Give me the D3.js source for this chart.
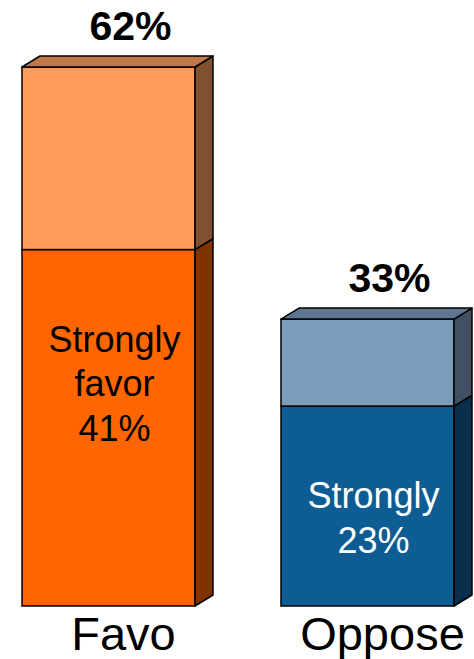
<!DOCTYPE html>
<html><head><meta charset="utf-8">
<script src="https://cdn.jsdelivr.net/npm/d3@7"></script>
<style>body{margin:0;background:#fff}svg{display:block}</style>
</head><body>
<svg id="c" width="474" height="659"></svg>
<script>
const categories = ["Favo", "Oppose"];
const strongValues = [41, 23];
const totalValues = [62, 33];
const strongLabels = [["Strongly", "favor", "41%"], ["Strongly", "23%"]];
const totalLabels = ["62%", "33%"];

const strongFront = ["#FF6600", "#0E5C94"];
const strongSide = ["#7F3300", "#0A2F4C"];
const lightFront = ["#FF9C5C", "#7B9DBB"];
const lightTop = ["#C07848", "#5E7591"];
const lightSide = ["#805030", "#425063"];
const strongText = ["#000", "#fff"];

const svg = d3.select("#c");
const x = d3.scaleBand().domain(categories).range([22, 454]).paddingInner(0.332).paddingOuter(0);
const y = d3.scaleLinear().domain([0, 62]).range([606, 67]);
const dx = 18, dy = 11;
const font = "'Liberation Sans', Arial, sans-serif";

function box(g, x0, w, yTop, yBot, front, side, top) {
  const x1 = x0 + w;
  g.append("rect").attr("x", x0).attr("y", yTop).attr("width", w).attr("height", yBot - yTop)
    .attr("fill", front).attr("stroke", "#000").attr("stroke-width", 1.5);
  g.append("polygon").attr("points", [[x1, yTop], [x1 + dx, yTop - dy], [x1 + dx, yBot - dy], [x1, yBot]].join(" "))
    .attr("fill", side).attr("stroke", "#000").attr("stroke-width", 1.5).attr("stroke-linejoin", "round");
  if (top) {
    g.append("polygon").attr("points", [[x0, yTop], [x0 + dx, yTop - dy], [x1 + dx, yTop - dy], [x1, yTop]].join(" "))
      .attr("fill", top).attr("stroke", "#000").attr("stroke-width", 1.5).attr("stroke-linejoin", "round");
  }
}

categories.forEach((c, i) => {
  const g = svg.append("g");
  const x0 = x(c), w = x.bandwidth();
  box(g, x0, w, y(strongValues[i]), y(0), strongFront[i], strongSide[i], null);
  box(g, x0, w, y(totalValues[i]), y(strongValues[i]), lightFront[i], lightSide[i], lightTop[i]);
  const cx = x0 + w / 2;
  strongLabels[i].forEach((t, j) => {
    g.append("text").attr("x", cx + 6).attr("y", y(strongValues[i]) + 102 + j * 44.5)
      .attr("text-anchor", "middle").attr("font-family", font).attr("font-size", 36)
      .attr("fill", strongText[i]).text(t);
  });
  g.append("text").attr("x", cx + 22).attr("y", y(totalValues[i]) - dy - 16)
    .attr("text-anchor", "middle").attr("font-family", font).attr("font-size", 41)
    .attr("font-weight", "bold").attr("fill", "#000").text(totalLabels[i]);
  g.append("text").attr("x", cx + 15).attr("y", 650)
    .attr("text-anchor", "middle").attr("font-family", font).attr("font-size", 47)
    .attr("fill", "#000").text(c);
});
</script>
</body></html>
